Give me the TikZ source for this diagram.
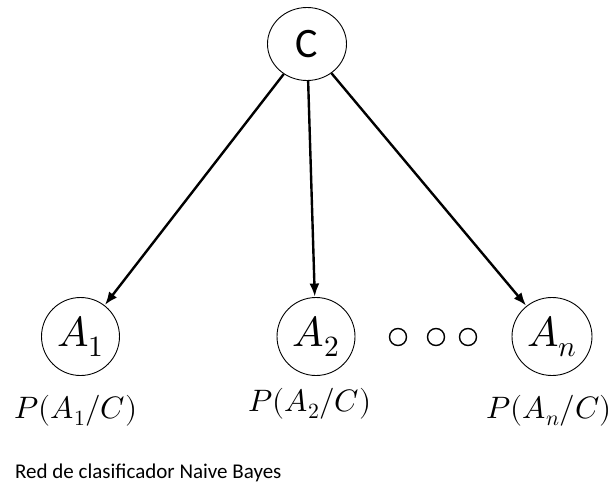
\documentclass[tikz,border=0pt]{standalone}
\usepackage{fontspec}
\usepackage{unicode-math}
\setmathfont{Latin Modern Math}
\newfontfamily\capfont{Carlito}
\usetikzlibrary{shapes.geometric,arrows.meta}
\begin{document}
\begin{tikzpicture}[x=1pt,y=-1pt,
  var/.style={draw,ellipse,line width=0.9pt,minimum width=78pt,minimum height=78pt,inner sep=0pt},
  arr/.style={line width=2.4pt,-{Latex[length=13pt,width=10pt]},shorten >=0.5pt},
  dotc/.style={draw,circle,line width=1.4pt,minimum size=17pt,inner sep=0pt},
  prob/.style={font=\fontsize{31}{36}\selectfont,anchor=base,inner sep=0pt},
  nodetxt/.style={font=\fontsize{42}{48}\selectfont}]
\useasboundingbox (0,0) rectangle (614,482);
\node[var,font=\capfont\fontsize{42}{48}\selectfont,minimum width=79pt,minimum height=73pt] (C) at (307,44) {C};
\node[var,nodetxt] (A1) at (80.5,336.5) {$A_1$};
\node[var,nodetxt] (A2) at (316,336.5) {$A_2$};
\node[var,nodetxt,minimum width=80pt] (An) at (552,336.5) {$A_n$};
\node[dotc] (d1) at (398,337) {};
\node[dotc] (d2) at (436,337) {};
\node[dotc] (d3) at (468,337) {};
\draw[arr] (C) -- (A1);
\draw[arr] (C) -- (A2);
\draw[arr] (C) -- (An);
\node[prob] (p1) at (76,418) {$P(A_1/C)$};
\node[prob] (p2) at (310,411) {$P(A_2/C)$};
\node[prob] (pn) at (549,418) {$P(A_n/C)$};
\node[anchor=base west,font=\capfont\fontsize{21}{25}\selectfont,inner sep=0pt] (cap) at (15,478) {Red de clasificador Naive Bayes};
\end{tikzpicture}
\end{document}
